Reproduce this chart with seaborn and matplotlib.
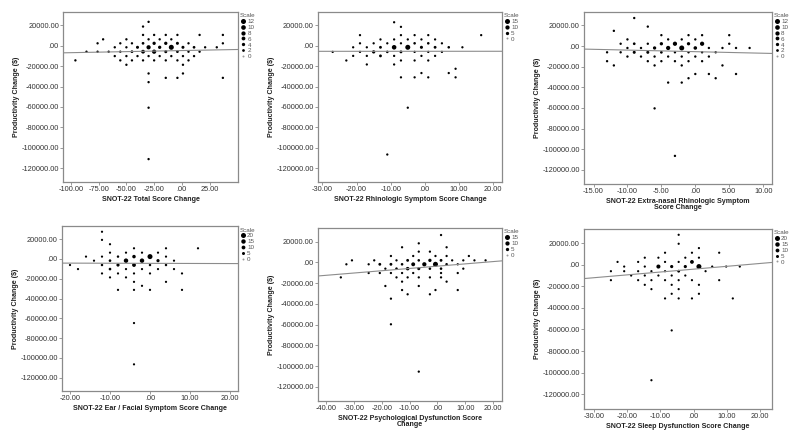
import numpy as np
import pandas as pd
import matplotlib
matplotlib.use('Agg')
import matplotlib.pyplot as plt
from matplotlib.lines import Line2D
from matplotlib.ticker import FuncFormatter
import seaborn as sns

# Data: binned points (x, y, count) for each panel, one inner list per y row
Y_LABEL = 'Productivity Change ($)'
Y_TICKS = [20000, 0, -20000, -40000, -60000, -80000, -100000, -120000]

P1_LABEL = 'SNOT-22 Total Score Change'
P1_TICKS = [-100, -75, -50, -25, 0, 25]
P1_SCALE = [12, 10, 8, 6, 4, 2, 0]
P1_Y = [23300, 18700, 10500, 6200, 2300, -1600, -5900, -10200, -14400, -18700,
        -27200, -31500, -35700, -60700, -111000]
P1_X = [[-30], [-35],
        [-35, -25, -14.5, -4, 16, 37],
        [-71, -50, -30, -20, -9.5],
        [-76, -55.5, -45, -35, -25, -14.5, -4, 6, 37],
        [-60.5, -50, -40, -30, -20, -9.5, 1, 11, 21, 31.5],
        [-86, -76, -66, -55.5, -45, -35, -25, -14.5, -4, 6, 16],
        [-60.5, -50, -40, -30, -20, -9.5, 1, 11],
        [-96, -55.5, -45, -35, -25, -14.5, -4, 6],
        [-50, 1], [-30, 1], [-14.5, -4, 37], [-30], [-30], [-30]]
P1_N = [[1], [1],
        [1, 1, 1, 1, 1, 1],
        [1, 1, 1, 1, 1],
        [1, 1, 1, 2, 4, 4, 3, 1, 1],
        [1, 1, 3, 8, 4, 12, 3, 2, 1, 1],
        [1, 1, 1, 1, 2, 6, 8, 3, 2, 1, 1],
        [1, 1, 1, 1, 1, 1, 1, 1],
        [1, 1, 1, 1, 1, 1, 1, 1],
        [1, 1], [1, 1], [1, 1, 1], [1], [1], [1]]

P2_LABEL = 'SNOT-22 Rhinologic Symptom Score Change'
P2_TICKS = [-30, -20, -10, 0, 10, 20]
P2_SCALE = [15, 10, 5, 0]
P2_Y = [22900, 18400, 10300, 6100, 2300, -1600, -6100, -10000, -14500, -18400,
        -22600, -26800, -31000, -60700, -106500]
P2_X = [[-9], [-7],
        [-19, -7, -3, 1, 16.5],
        [-13, -9, -5, -1, 3],
        [-19, -15, -11, -7, -3, 1, 5],
        [-21, -17, -13, -9, -5, -1, 3, 7, 11],
        [-27, -19, -15, -11, -7, -3, 1, 5],
        [-21, -17, -13, -9, -1, 3],
        [-23, -7, -3, 1],
        [-17, -9], [9], [-1, 7], [-7, -3, 1, 9], [-5], [-11]]
P2_N = [[1], [1],
        [1, 1, 1, 1, 1],
        [1, 1, 1, 1, 1],
        [1, 1, 1, 1, 2, 2, 1],
        [1, 1, 3, 12, 15, 4, 3, 2, 1],
        [1, 1, 5, 2, 3, 1, 1, 1],
        [1, 1, 3, 1, 1, 1],
        [1, 1, 1, 1],
        [1, 1], [1], [1, 1], [1, 1, 1, 1], [1], [1]]

P3_LABEL = 'SNOT-22 Extra-nasal Rhinologic Symptom\nScore Change'
P3_TICKS = [-15, -10, -5, 0, 5, 10]
P3_SCALE = [12, 10, 8, 6, 4, 2, 0]
P3_Y = [27100, 18800, 14700, 10500, 6400, 2200, -1900, -6100, -10200, -14700,
        -18800, -27100, -31200, -35400, -60400, -106400]
P3_X = [[-9], [-7], [-12],
        [-5, -1, 1, 5],
        [-10, -4, -2, 0],
        [-11, -9, -7, -5, -3, -1, 1, 5],
        [-10, -8, -6, -4, -2, 0, 2, 4, 6, 8],
        [-13, -11, -9, -7, -5, -3, -1, 1, 3],
        [-10, -8, -6, -4, -2, 0, 2],
        [-13, -7, -5, -3, -1, 1],
        [-12, -6, -2, 4],
        [0, 2, 6], [-1, 3], [-4, -2], [-6], [-3]]
P3_N = [[1], [1], [1],
        [1, 1, 1, 1],
        [1, 1, 1, 1],
        [1, 2, 1, 4, 8, 4, 8, 1],
        [1, 1, 4, 8, 12, 5, 1, 1, 1, 1],
        [1, 1, 3, 3, 2, 1, 1, 1, 1],
        [1, 1, 1, 1, 1, 1, 1],
        [1, 1, 1, 1, 1, 1],
        [1, 1, 1, 1],
        [1, 1, 1], [1, 1], [1, 1], [1], [1]]

P4_LABEL = 'SNOT-22 Ear / Facial Symptom Score Change'
P4_TICKS = [-20, -10, 0, 10, 20]
P4_SCALE = [20, 15, 10, 5, 0]
P4_Y = [27500, 19300, 14900, 10800, 6400, 2400, -1700, -6100, -10200, -14600,
        -18600, -23100, -27100, -31200, -64700, -106400]
P4_X = [[-12], [-12], [-10],
        [-4, 4, 12],
        [-10, -6, -2, 2],
        [-16, -12, -8, -4, 0, 4],
        [-14, -10, -6, -2, 2, 6],
        [-20, -12, -8, -4, 0, 4],
        [-18, -10, -6, -2, 2, 6],
        [-12, -8, -4, 0, 8],
        [-10, -6], [-4, 4], [-2], [-8, -4, 0, 8], [-4], [-4]]
P4_N = [[1], [1], [1],
        [1, 1, 1],
        [1, 1, 1, 1],
        [1, 1, 2, 8, 20, 1],
        [1, 3, 15, 15, 6, 1],
        [1, 2, 6, 10, 2, 2],
        [1, 3, 1, 1, 1, 1],
        [1, 1, 1, 1, 1],
        [1, 1], [1, 1], [1], [1, 1, 1, 1], [1], [1]]

P5_LABEL = 'SNOT-22 Psychological Dysfunction Score\nChange'
P5_TICKS = [-40, -30, -20, -10, 0, 10, 20]
P5_SCALE = [15, 10, 5, 0]
P5_Y = [26300, 18300, 14500, 10300, 6100, 1900, -1900, -6100, -10300, -14500,
        -18600, -22800, -26700, -30800, -35000, -59700, -105300]
P5_X = [[1.3], [-6.7], [-12.7, 3.3], [-6.7, -2.7],
        [-16.7, -8.7, -0.7, 3.3, 11.3],
        [-30.7, -22.7, -14.7, -10.7, -6.7, -2.7, 1.3, 5.3, 9.3, 13.3, 17.3],
        [-32.7, -24.7, -20.7, -16.7, -12.7, -8.7, -4.7, -0.7, 3.3, 7.3],
        [-18.7, -14.7, -10.7, -6.7, -2.7, 1.3, 9.3],
        [-24.7, -20.7, -16.7, -12.7, -8.7, 1.3, 7.3],
        [-34.7, -14.7, -10.7, -6.7, -2.7, 1.3],
        [-12.7, 3.3], [-18.7, -6.7], [-12.7, -0.7, 7.3], [-10.7, -2.7],
        [-16.7], [-16.7], [-6.7]]
P5_N = [[1], [1], [1, 1], [1, 1],
        [1, 1, 1, 1, 1],
        [1, 1, 1, 3, 2, 5, 3, 1, 1, 1, 1],
        [1, 1, 3, 3, 2, 8, 10, 15, 2, 1],
        [1, 2, 6, 4, 2, 2, 1],
        [1, 1, 1, 1, 1, 1, 1],
        [1, 1, 1, 1, 1, 1],
        [1, 1], [1, 1], [1, 1, 1], [1, 1], [1], [1], [1]]

P6_LABEL = 'SNOT-22 Sleep Dysfunction Score Change'
P6_TICKS = [-30, -20, -10, 0, 10, 20]
P6_SCALE = [20, 15, 10, 5, 0]
P6_Y = [27600, 19300, 15300, 11000, 6400, 2500, -1800, -6100, -10100, -14400,
        -18700, -22700, -27000, -31300, -60900, -107000]
P6_X = [[-4.5], [-4.5], [1.6],
        [-8.6, -0.5, 7.7],
        [-14.7, -10.6, -2.5, 1.6],
        [-22.9, -16.7, -8.6, -4.5, -0.5],
        [-20.9, -14.7, -10.6, -6.6, -2.5, 1.6, 5.6, 9.8, 13.9],
        [-24.9, -20.9, -16.7, -12.7, -8.6, -4.5, 3.6],
        [-18.8, -14.7, -10.6, -6.6, -2.5],
        [-24.9, -16.7, -12.7, -8.6, -4.5, -0.5, 7.7],
        [-14.7, -6.6, 1.6], [-12.7, -4.5], [-6.6, 1.6],
        [-8.6, -4.5, -0.5, 11.8], [-6.6], [-12.7]]
P6_N = [[1], [1], [1],
        [1, 1, 1],
        [1, 1, 1, 1],
        [1, 1, 1, 1, 10],
        [1, 1, 12, 6, 6, 20, 1, 1, 1],
        [1, 1, 1, 1, 1, 4, 1],
        [1, 1, 1, 1, 1],
        [1, 1, 1, 1, 1, 1, 1],
        [1, 1, 1], [1, 1], [1, 1], [1, 1, 1, 1], [1], [1]]


def make_frame(levels, xs, ns):
    rows = []
    for y, xrow, nrow in zip(levels, xs, ns):
        for x, n in zip(xrow, nrow):
            rows.append((x, y, n))
    return pd.DataFrame(rows, columns=['x', 'y', 'n'])


def spss_fmt(v, pos=None):
    s = f'{v:.2f}'
    if s in ('0.00', '-0.00'):
        return '.00'
    return s


panels = [
    (make_frame(P1_Y, P1_X, P1_N), P1_LABEL, P1_TICKS, P1_SCALE, (-107, 51), [0.079, 0.588, 0.219, 0.385]),
    (make_frame(P2_Y, P2_X, P2_N), P2_LABEL, P2_TICKS, P2_SCALE, (-31.3, 22.6), [0.3975, 0.588, 0.23, 0.385]),
    (make_frame(P3_Y, P3_X, P3_N), P3_LABEL, P3_TICKS, P3_SCALE, (-16.4, 11.3), [0.73, 0.584, 0.235, 0.389]),
    (make_frame(P4_Y, P4_X, P4_N), P4_LABEL, P4_TICKS, P4_SCALE, (-22, 22), [0.0775, 0.115, 0.22, 0.373]),
    (make_frame(P5_Y, P5_X, P5_N), P5_LABEL, P5_TICKS, P5_SCALE, (-42.9, 23.2), [0.3975, 0.093, 0.23, 0.391]),
    (make_frame(P6_Y, P6_X, P6_N), P6_LABEL, P6_TICKS, P6_SCALE, (-33, 23.6), [0.73, 0.075, 0.235, 0.407]),
]

sns.set_style('white')
plt.rcParams['font.family'] = ['Liberation Sans', 'DejaVu Sans']

fig = plt.figure(figsize=(8, 4.42), dpi=100)
frame_col = '#8a8a8a'
s_min, s_max = 2.0, 13.0

for df, xlabel, xticks, scale, xlim, pos in panels:
    ax = fig.add_axes(pos)
    nmax = max(scale)
    sns.scatterplot(data=df, x='x', y='y', size='n', sizes=(s_min, s_max),
                    size_norm=(0, nmax), color='black', linewidth=0,
                    legend=False, ax=ax)
    ax.set_xlim(xlim)
    ax.set_ylim(-133500, 33000)
    # fit line over all cases (each bin repeated by its count)
    full = df.loc[df.index.repeat(df['n'])]
    sns.regplot(data=full, x='x', y='y', scatter=False, ci=None, truncate=False,
                color='#8c8c8c', line_kws={'lw': 0.8}, ax=ax)
    ax.set_xlim(xlim)
    ax.set_ylim(-133500, 33000)

    ax.set_xticks(xticks)
    ax.set_yticks(Y_TICKS)
    ax.xaxis.set_major_formatter(FuncFormatter(spss_fmt))
    ax.yaxis.set_major_formatter(FuncFormatter(spss_fmt))
    ax.tick_params(axis='both', which='major', labelsize=5.3, length=2, width=0.6,
                   color=frame_col, labelcolor='#333333', pad=1,
                   bottom=True, left=True)
    for sp in ax.spines.values():
        sp.set_color(frame_col)
        sp.set_linewidth(0.9)

    ax.set_xlabel(xlabel, fontsize=5.1, fontweight='bold', color='#222222',
                  labelpad=2, linespacing=0.9)
    ax.set_ylabel(Y_LABEL, fontsize=5.1, fontweight='bold', color='#222222',
                  labelpad=1)

    handles = []
    for v in scale:
        ms = np.sqrt(s_min + (s_max - s_min) * v / nmax)
        col = '#9a9a9a' if v == 0 else 'black'
        handles.append(Line2D([], [], ls='', marker='o', color=col,
                              markeredgewidth=0, markersize=ms))
    leg = ax.legend(handles, [str(v) for v in scale], title='Scale',
                    loc='upper left', bbox_to_anchor=(1.0, 1.0),
                    frameon=False, fontsize=4.5, title_fontsize=4.5,
                    labelspacing=0.08, handlelength=0.8, handletextpad=0.3,
                    borderpad=0, borderaxespad=0.2)
    for t in leg.get_texts():
        t.set_color('#555555')
    leg.get_title().set_color('#555555')

fig.savefig('out.png', dpi=100)
